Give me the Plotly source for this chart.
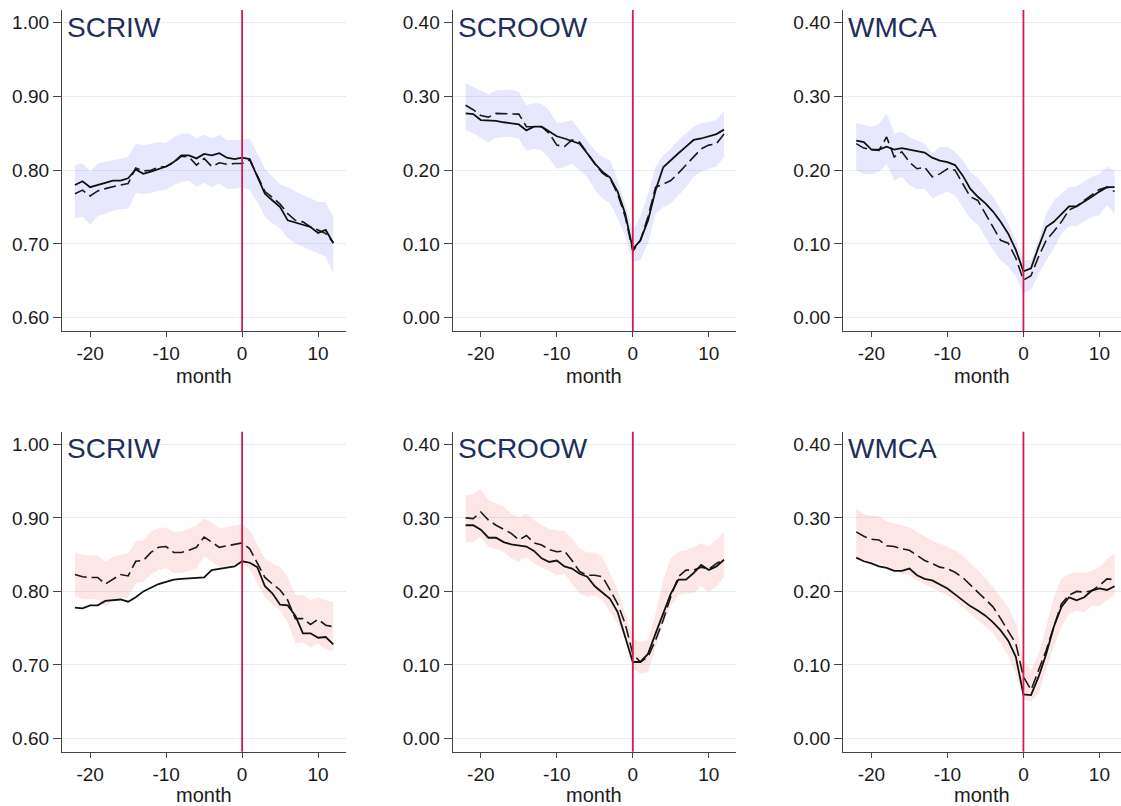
import plotly.graph_objects as go

# ---------------- data ----------------
months = list(range(-22, 13))
x_ticks = [-20, -10, 0, 10]
y_ticks_scriw = [0.60, 0.70, 0.80, 0.90, 1.00]
y_ticks_other = [0.00, 0.10, 0.20, 0.30, 0.40]
panel_titles = ["SCRIW", "SCROOW", "WMCA", "SCRIW", "SCROOW", "WMCA"]
x_label = "month"

# top row, SCRIW
t_scriw_solid = [0.780, 0.785, 0.777, 0.780, 0.782, 0.786, 0.786, 0.789, 0.801, 0.795, 0.798, 0.802, 0.805, 0.811, 0.820, 0.820, 0.816, 0.822, 0.820, 0.823, 0.817, 0.815, 0.817, 0.815, 0.791, 0.768, 0.759, 0.750, 0.732, 0.729, 0.726, 0.723, 0.715, 0.719, 0.701]
t_scriw_dash = [0.768, 0.773, 0.765, 0.772, 0.775, 0.778, 0.780, 0.782, 0.803, 0.799, 0.800, 0.804, 0.805, 0.810, 0.819, 0.818, 0.807, 0.816, 0.805, 0.810, 0.808, 0.809, 0.809, 0.814, 0.793, 0.771, 0.763, 0.754, 0.741, 0.732, 0.730, 0.723, 0.719, 0.714, 0.702]
t_scriw_hi = [0.807, 0.809, 0.798, 0.809, 0.811, 0.814, 0.816, 0.818, 0.836, 0.834, 0.836, 0.838, 0.837, 0.845, 0.849, 0.850, 0.843, 0.848, 0.843, 0.848, 0.841, 0.841, 0.841, 0.843, 0.823, 0.802, 0.791, 0.781, 0.777, 0.771, 0.766, 0.762, 0.757, 0.757, 0.737]
t_scriw_lo = [0.735, 0.737, 0.726, 0.738, 0.741, 0.745, 0.747, 0.748, 0.769, 0.768, 0.769, 0.772, 0.773, 0.780, 0.784, 0.786, 0.778, 0.783, 0.777, 0.782, 0.775, 0.775, 0.777, 0.773, 0.757, 0.737, 0.728, 0.721, 0.708, 0.701, 0.696, 0.692, 0.687, 0.683, 0.660]

# top row, SCROOW
t_scroow_solid = [0.277, 0.276, 0.268, 0.268, 0.267, 0.265, 0.264, 0.262, 0.254, 0.259, 0.259, 0.252, 0.246, 0.243, 0.240, 0.236, 0.223, 0.209, 0.198, 0.190, 0.171, 0.141, 0.093, 0.105, 0.132, 0.173, 0.204, 0.214, 0.223, 0.232, 0.241, 0.243, 0.246, 0.249, 0.255]
t_scroow_dash = [0.288, 0.282, 0.274, 0.272, 0.277, 0.277, 0.277, 0.276, 0.259, 0.259, 0.259, 0.250, 0.234, 0.232, 0.241, 0.238, 0.223, 0.209, 0.196, 0.189, 0.168, 0.137, 0.090, 0.105, 0.137, 0.177, 0.181, 0.186, 0.196, 0.207, 0.218, 0.229, 0.234, 0.236, 0.249]
t_scroow_hi = [0.318, 0.313, 0.307, 0.303, 0.308, 0.309, 0.309, 0.306, 0.288, 0.291, 0.290, 0.281, 0.264, 0.265, 0.268, 0.254, 0.241, 0.227, 0.218, 0.214, 0.186, 0.155, 0.119, 0.137, 0.168, 0.205, 0.220, 0.229, 0.241, 0.250, 0.259, 0.264, 0.265, 0.268, 0.281]
t_scroow_lo = [0.254, 0.250, 0.244, 0.238, 0.244, 0.245, 0.245, 0.243, 0.226, 0.229, 0.227, 0.216, 0.202, 0.204, 0.209, 0.200, 0.191, 0.173, 0.162, 0.155, 0.135, 0.110, 0.076, 0.078, 0.101, 0.141, 0.150, 0.155, 0.166, 0.177, 0.191, 0.198, 0.202, 0.205, 0.218]

# top row, WMCA
t_wmca_solid = [0.240, 0.238, 0.228, 0.228, 0.232, 0.228, 0.230, 0.228, 0.225, 0.224, 0.217, 0.213, 0.211, 0.207, 0.193, 0.175, 0.164, 0.155, 0.144, 0.130, 0.114, 0.092, 0.063, 0.067, 0.096, 0.123, 0.130, 0.141, 0.151, 0.151, 0.157, 0.164, 0.171, 0.177, 0.177]
t_wmca_dash = [0.236, 0.230, 0.228, 0.227, 0.245, 0.218, 0.225, 0.211, 0.202, 0.204, 0.191, 0.195, 0.202, 0.200, 0.182, 0.164, 0.159, 0.141, 0.121, 0.105, 0.101, 0.081, 0.051, 0.057, 0.083, 0.105, 0.117, 0.130, 0.146, 0.151, 0.159, 0.166, 0.174, 0.177, 0.171]
t_wmca_hi = [0.264, 0.261, 0.259, 0.263, 0.277, 0.250, 0.252, 0.245, 0.241, 0.236, 0.223, 0.231, 0.232, 0.225, 0.214, 0.198, 0.189, 0.177, 0.164, 0.146, 0.128, 0.105, 0.078, 0.078, 0.105, 0.141, 0.159, 0.168, 0.177, 0.178, 0.184, 0.191, 0.195, 0.205, 0.199]
t_wmca_lo = [0.200, 0.195, 0.195, 0.198, 0.209, 0.186, 0.191, 0.180, 0.174, 0.175, 0.162, 0.166, 0.171, 0.166, 0.150, 0.135, 0.126, 0.110, 0.092, 0.078, 0.069, 0.056, 0.033, 0.038, 0.060, 0.078, 0.094, 0.114, 0.124, 0.124, 0.130, 0.137, 0.139, 0.153, 0.141]

# bottom row, SCRIW
b_scriw_solid = [0.778, 0.777, 0.781, 0.781, 0.787, 0.788, 0.789, 0.786, 0.792, 0.800, 0.805, 0.810, 0.813, 0.816, 0.817, 0.818, 0.818, 0.819, 0.829, 0.831, 0.833, 0.834, 0.841, 0.839, 0.833, 0.807, 0.797, 0.782, 0.781, 0.767, 0.743, 0.743, 0.737, 0.738, 0.728]
b_scriw_dash = [0.823, 0.820, 0.819, 0.819, 0.810, 0.817, 0.823, 0.821, 0.841, 0.842, 0.853, 0.860, 0.861, 0.853, 0.853, 0.856, 0.860, 0.874, 0.867, 0.860, 0.862, 0.864, 0.866, 0.858, 0.838, 0.819, 0.810, 0.802, 0.788, 0.763, 0.763, 0.755, 0.762, 0.754, 0.752]
b_scriw_hi = [0.853, 0.850, 0.849, 0.849, 0.840, 0.847, 0.850, 0.852, 0.868, 0.869, 0.881, 0.886, 0.887, 0.881, 0.881, 0.885, 0.890, 0.899, 0.894, 0.886, 0.887, 0.890, 0.891, 0.884, 0.865, 0.844, 0.838, 0.833, 0.819, 0.795, 0.795, 0.788, 0.792, 0.788, 0.786]
b_scriw_lo = [0.793, 0.790, 0.789, 0.789, 0.779, 0.788, 0.792, 0.791, 0.811, 0.813, 0.823, 0.829, 0.832, 0.825, 0.825, 0.828, 0.831, 0.848, 0.841, 0.833, 0.834, 0.837, 0.838, 0.831, 0.810, 0.792, 0.783, 0.774, 0.758, 0.729, 0.731, 0.724, 0.729, 0.721, 0.719]

# bottom row, SCROOW
b_scroow_solid = [0.290, 0.290, 0.284, 0.273, 0.273, 0.267, 0.264, 0.263, 0.261, 0.255, 0.245, 0.240, 0.242, 0.234, 0.231, 0.224, 0.220, 0.207, 0.199, 0.190, 0.172, 0.138, 0.104, 0.104, 0.115, 0.143, 0.170, 0.197, 0.216, 0.216, 0.225, 0.236, 0.229, 0.234, 0.243]
b_scroow_dash = [0.300, 0.299, 0.308, 0.297, 0.290, 0.285, 0.279, 0.270, 0.276, 0.266, 0.263, 0.257, 0.254, 0.255, 0.242, 0.227, 0.222, 0.222, 0.220, 0.202, 0.183, 0.156, 0.115, 0.104, 0.111, 0.134, 0.161, 0.193, 0.220, 0.229, 0.229, 0.233, 0.230, 0.238, 0.243]
b_scroow_hi = [0.331, 0.332, 0.340, 0.324, 0.320, 0.315, 0.306, 0.301, 0.306, 0.297, 0.290, 0.285, 0.283, 0.282, 0.272, 0.258, 0.253, 0.253, 0.247, 0.224, 0.202, 0.170, 0.136, 0.131, 0.134, 0.170, 0.215, 0.245, 0.254, 0.256, 0.261, 0.265, 0.261, 0.270, 0.281]
b_scroow_lo = [0.267, 0.267, 0.274, 0.261, 0.258, 0.254, 0.245, 0.240, 0.247, 0.238, 0.233, 0.228, 0.222, 0.224, 0.211, 0.197, 0.193, 0.195, 0.188, 0.172, 0.156, 0.134, 0.095, 0.088, 0.090, 0.124, 0.156, 0.179, 0.195, 0.197, 0.198, 0.207, 0.199, 0.207, 0.220]

# bottom row, WMCA
b_wmca_solid = [0.246, 0.241, 0.238, 0.234, 0.232, 0.228, 0.228, 0.231, 0.222, 0.217, 0.215, 0.210, 0.204, 0.196, 0.188, 0.180, 0.174, 0.167, 0.158, 0.147, 0.133, 0.111, 0.060, 0.059, 0.084, 0.115, 0.152, 0.179, 0.192, 0.188, 0.192, 0.201, 0.204, 0.202, 0.207]
b_wmca_dash = [0.281, 0.275, 0.271, 0.270, 0.262, 0.261, 0.258, 0.256, 0.249, 0.242, 0.238, 0.233, 0.231, 0.226, 0.219, 0.209, 0.199, 0.188, 0.179, 0.163, 0.145, 0.129, 0.084, 0.066, 0.093, 0.120, 0.152, 0.183, 0.195, 0.200, 0.199, 0.201, 0.208, 0.217, 0.216]
b_wmca_hi = [0.312, 0.305, 0.303, 0.302, 0.295, 0.293, 0.290, 0.287, 0.281, 0.274, 0.269, 0.265, 0.260, 0.256, 0.249, 0.238, 0.229, 0.217, 0.206, 0.192, 0.179, 0.156, 0.106, 0.093, 0.115, 0.152, 0.192, 0.217, 0.224, 0.226, 0.225, 0.228, 0.233, 0.244, 0.251]
b_wmca_lo = [0.247, 0.242, 0.240, 0.238, 0.234, 0.229, 0.224, 0.222, 0.215, 0.210, 0.205, 0.200, 0.195, 0.188, 0.180, 0.170, 0.161, 0.152, 0.143, 0.129, 0.113, 0.088, 0.053, 0.050, 0.061, 0.093, 0.124, 0.152, 0.170, 0.174, 0.172, 0.180, 0.180, 0.188, 0.195]

panels = [
    (t_scriw_solid, t_scriw_dash, t_scriw_lo, t_scriw_hi),
    (t_scroow_solid, t_scroow_dash, t_scroow_lo, t_scroow_hi),
    (t_wmca_solid, t_wmca_dash, t_wmca_lo, t_wmca_hi),
    (b_scriw_solid, b_scriw_dash, b_scriw_lo, b_scriw_hi),
    (b_scroow_solid, b_scroow_dash, b_scroow_lo, b_scroow_hi),
    (b_wmca_solid, b_wmca_dash, b_wmca_lo, b_wmca_hi),
]

# ---------------- layout geometry (pixels) ----------------
W, H = 1121, 806
col_px = [(62, 346), (452.7, 736), (843.3, 1121)]
row_px = [(10, 331), (431.7, 751.7)]
label_offset = [45, 43]
px_per_month = 7.6
band_colors = ["rgba(150,150,245,0.23)", "rgba(245,140,140,0.22)"]
FONT = "Arial, Liberation Sans, sans-serif"
TICK_SIZE = 19
LABEL_SIZE = 20

fig = go.Figure()
layout = dict(
    width=W, height=H, margin=dict(l=0, r=0, t=0, b=0),
    paper_bgcolor="white", plot_bgcolor="white", showlegend=False,
    font=dict(family=FONT, size=TICK_SIZE, color="#1a1a1a"),
)
annotations = []
shapes = []

for i, (solid, dash, lo, hi) in enumerate(panels):
    r, c = divmod(i, 3)
    xa = "x" if i == 0 else f"x{i+1}"
    ya = "y" if i == 0 else f"y{i+1}"
    xkey = "xaxis" if i == 0 else f"xaxis{i+1}"
    ykey = "yaxis" if i == 0 else f"yaxis{i+1}"
    x0p, x1p = col_px[c]
    y0p, y1p = row_px[r]
    zero_px = x0p + 23.7 * px_per_month
    xr = [(x0p - zero_px) / px_per_month, (x1p - zero_px) / px_per_month]
    if c == 0:
        yr = [0.582, 1.0172]
        yt = y_ticks_scriw
    else:
        yr = [-0.018, 0.4172]
        yt = y_ticks_other

    fig.add_trace(go.Scatter(
        x=months + months[::-1], y=hi + lo[::-1], fill="toself",
        fillcolor=band_colors[r], line=dict(width=0), mode="lines",
        hoverinfo="skip", xaxis=xa, yaxis=ya))
    fig.add_trace(go.Scatter(
        x=months, y=dash, mode="lines",
        line=dict(color="#1a1a1a", width=1.6, dash="12px,5px"),
        xaxis=xa, yaxis=ya))
    fig.add_trace(go.Scatter(
        x=months, y=solid, mode="lines",
        line=dict(color="#111111", width=1.8),
        xaxis=xa, yaxis=ya))

    layout[xkey] = dict(
        domain=[x0p / W, x1p / W], range=xr, anchor=ya,
        tickvals=x_ticks, ticktext=[str(v) for v in x_ticks],
        showgrid=False, zeroline=False, showline=True, linecolor="#444",
        linewidth=1.3, ticks="outside", ticklen=5, tickcolor="#444",
        tickfont=dict(size=TICK_SIZE, family=FONT, color="#1a1a1a"),
    )
    layout[ykey] = dict(
        domain=[1 - y1p / H, 1 - y0p / H], range=yr, anchor=xa,
        tickvals=yt, ticktext=[f"{v:.2f}" for v in yt],
        showgrid=True, gridcolor="#e6edf1", gridwidth=1,
        zeroline=False, showline=True, linecolor="#444", linewidth=1.3,
        ticks="outside", ticklen=8, tickcolor="#444",
        tickfont=dict(size=TICK_SIZE, family=FONT, color="#1a1a1a"),
    )
    shapes.append(dict(
        type="line", xref=xa, yref=f"{ya} domain", x0=0, x1=0, y0=0, y1=1,
        line=dict(color="#d7194b", width=1.8), layer="above"))
    annotations.append(dict(
        text=panel_titles[i], xref="paper", yref="paper",
        x=(x0p + 3) / W, y=1 - (y0p + 17) / H, xanchor="left", yanchor="middle",
        showarrow=False, font=dict(size=28, family=FONT, color="#1f2e5a")))
    annotations.append(dict(
        text=x_label, xref="paper", yref="paper",
        x=(x0p + x1p) / 2 / W, y=1 - (y1p + label_offset[r]) / H,
        xanchor="center", yanchor="middle", showarrow=False,
        font=dict(size=LABEL_SIZE, family=FONT, color="#1a1a1a")))

layout["annotations"] = annotations
layout["shapes"] = shapes
fig.update_layout(**layout)
fig.write_html(
    "out.html",
    config={"displayModeBar": False},
    post_script="document.body.style.margin='0';document.body.style.overflow='hidden';",
)
